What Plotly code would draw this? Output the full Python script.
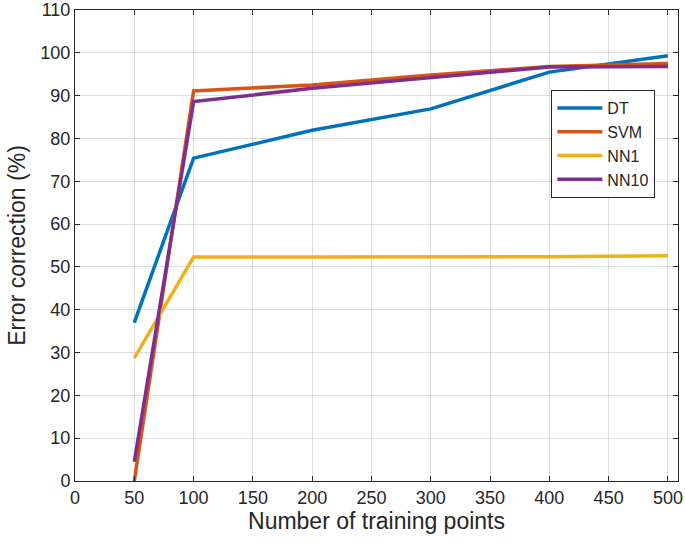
import plotly.graph_objects as go

training_points = [50, 100, 200, 300, 400, 500]
dt = [37.0, 75.4, 81.9, 86.9, 95.5, 99.3]
svm = [0.0, 91.1, 92.5, 94.8, 96.8, 97.5]
nn1 = [28.7, 52.3, 52.3, 52.3, 52.4, 52.6]
nn10 = [4.5, 88.6, 91.7, 94.3, 96.7, 96.8]

series = [
    ("DT", dt, "#0072BD"),
    ("SVM", svm, "#D95319"),
    ("NN1", nn1, "#EDB120"),
    ("NN10", nn10, "#7E2F8E"),
]


def main():
    fig = go.Figure()
    for name, values, color in series:
        fig.add_trace(go.Scatter(x=training_points, y=values, name=name,
                                 mode="lines", line=dict(color=color, width=3.5)))

    axis_style = dict(
        ticks="inside",
        ticklen=5,
        tickcolor="#262626",
        showline=True,
        linecolor="#262626",
        linewidth=1,
        mirror="ticks",
        showgrid=True,
        gridcolor="rgba(0,0,0,0.13)",
        zeroline=False,
        automargin=False,
        ticklabeloverflow="allow",
        tickfont=dict(size=18, color="#262626"),
    )
    fig.update_layout(
        xaxis=dict(range=[0, 508.5], tickvals=list(range(0, 501, 50)),
                   title=dict(text="Number of training points",
                              font=dict(size=23, color="#262626"), standoff=3),
                   **axis_style),
        yaxis=dict(range=[0, 110], tickvals=list(range(0, 111, 10)),
                   title=dict(text="Error correction (%)",
                              font=dict(size=23, color="#262626"), standoff=8),
                   **axis_style),
        legend=dict(x=0.79, y=0.83, xanchor="left", yanchor="top",
                    bgcolor="white", bordercolor="#262626", borderwidth=1,
                    font=dict(size=16, color="#262626"),
                    tracegroupgap=0, itemwidth=45),
        font=dict(family="Liberation Sans, Arial", color="#262626"),
        paper_bgcolor="white",
        plot_bgcolor="white",
        margin=dict(l=75, r=7, t=10, b=67),
        width=685,
        height=548,
    )
    # page body has a default 8px margin; drop it so the figure sits at 0,0
    fig.write_html("out.html", config={"displayModeBar": False},
                   post_script="document.body.style.margin='0';")


if __name__ == "__main__":
    main()
